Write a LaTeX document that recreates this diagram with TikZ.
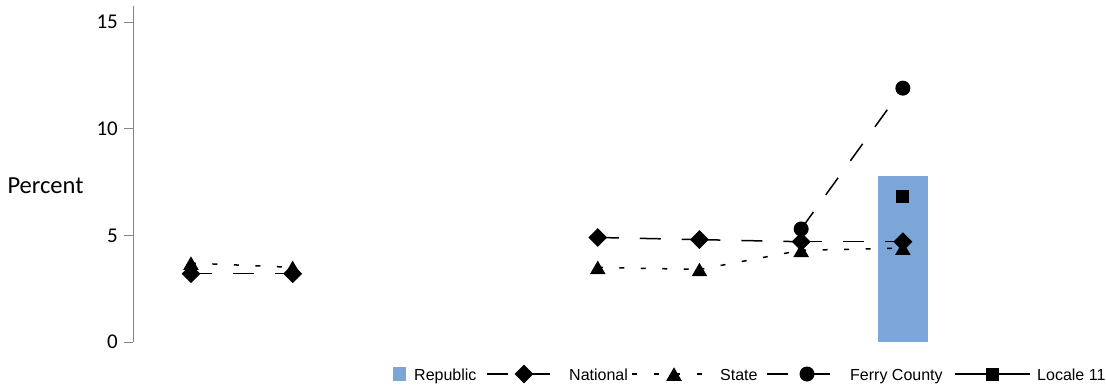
\documentclass[tikz,border=0pt]{standalone}
\usepackage{fontspec}
\setmainfont{Carlito}
\newfontfamily\legendfont{Liberation Sans}
\usetikzlibrary{shapes.geometric}
\definecolor{barblue}{RGB}{124,166,216}
\definecolor{axisgray}{RGB}{134,134,134}
\tikzset{
	natline/.style={line width=1.5pt,dash pattern=on 21pt off 21pt},
	stateline/.style={line width=1.5pt,dash pattern=on 5pt off 16.5pt},
	ferryline/.style={line width=1.5pt,dash pattern=on 21pt off 21pt},
	localeline/.style={line width=1.5pt},
	natmark/.style={diamond,fill,inner sep=0pt,minimum size=19pt},
	statemark/.style={regular polygon,regular polygon sides=3,fill,inner sep=0pt,minimum size=18pt,yshift=-2.25pt},
	ferrymark/.style={circle,fill,inner sep=0pt,minimum size=15pt},
	localemark/.style={rectangle,fill,inner sep=0pt,minimum size=13pt},
	ticklab/.style={anchor=east,inner sep=0pt,font=\fontsize{21}{21}\selectfont},
	legtext/.style={anchor=base west,inner sep=0pt,font=\legendfont\fontsize{16}{16}\selectfont}
}
\begin{document}
\begin{tikzpicture}[x=101.7pt,y=21.33pt]
				\useasboundingbox (-133.5pt,-44pt) rectangle (972.5pt,342pt);
				\draw[axisgray,line width=1pt] (0,0) -- (0,15.75);
				\foreach \v in {0,5,10,15}{
				\draw[axisgray,line width=1pt] (-9pt,\v) -- (0,\v);
				\node[ticklab] (tick\v) at (-15.5pt,\v) {\v};
				}
				\node[font=\fontsize{24.5}{24.5}\selectfont] (ylabel) at (-88pt,7.31) {Percent};
				\fill[barblue] (7.565,0) ++(-25pt,0) rectangle ++(50pt,7.8);
				\foreach \n/\x/\y in {nat1/0.565/3.2,nat2/1.565/3.2,nat5/4.565/4.9,nat6/5.565/4.8,nat7/6.565/4.7,nat8/7.565/4.7,
				state1/0.565/3.7,state2/1.565/3.5,state5/4.565/3.5,state6/5.565/3.4,state7/6.565/4.3,state8/7.565/4.4,
				ferry7/6.565/5.3,ferry8/7.565/11.9,locale8/7.565/6.8}
				\coordinate (\n) at (\x,\y);
				\foreach \a/\b in {nat1/nat2,nat5/nat6,nat6/nat7,nat7/nat8}
				\draw[natline] (\a) -- (\b);
				\foreach \n in {nat1,nat2,nat5,nat6,nat7,nat8}
				\node[natmark] (\n m) at (\n) {};
				\foreach \a/\b in {state1/state2,state5/state6,state6/state7,state7/state8}
				\draw[stateline] (\a) -- (\b);
				\foreach \n in {state1,state2,state5,state6,state7,state8}
				\node[statemark] (\n m) at (\n) {};
				\draw[ferryline] (ferry7) -- (ferry8);
				\foreach \n in {ferry7,ferry8}
				\node[ferrymark] (\n m) at (\n) {};
				\node[localemark] (locale8m) at (locale8) {};
				\node[fill=barblue,inner sep=0pt,minimum size=13.5pt] (legrep) at (266pt,-32pt) {};
				\node[legtext] (legrept) at (280.5pt,-38pt) {Republic};
				\coordinate (legnata) at (353.5pt,-32pt);
				\coordinate (legnatb) at (416.5pt,-32pt);
				\draw[natline] (legnata) -- (legnatb);
				\node[natmark] (legnat) at (390.5pt,-32pt) {};
				\node[legtext] (legnatt) at (435.5pt,-38pt) {National};
				\coordinate (legstatea) at (498.5pt,-32pt);
				\coordinate (legstateb) at (571.5pt,-32pt);
				\draw[stateline] (legstatea) -- (legstateb);
				\node[statemark] (legstate) at (540.5pt,-32pt) {};
				\node[legtext] (legstatet) at (586.5pt,-38pt) {State};
				\coordinate (legferrya) at (633.5pt,-32pt);
				\coordinate (legferryb) at (696.5pt,-32pt);
				\draw[ferryline] (legferrya) -- (legferryb);
				\node[ferrymark] (legferry) at (673.5pt,-32pt) {};
				\node[legtext] (legferryt) at (716.5pt,-38pt) {Ferry County};
				\coordinate (leglocalea) at (821.5pt,-32pt);
				\coordinate (leglocaleb) at (896.5pt,-32pt);
				\draw[localeline] (leglocalea) -- (leglocaleb);
				\node[localemark] (leglocale) at (859pt,-32pt) {};
				\node[legtext] (leglocalet) at (903.5pt,-38pt) {Locale 11};
				\end{tikzpicture}
\end{document}
